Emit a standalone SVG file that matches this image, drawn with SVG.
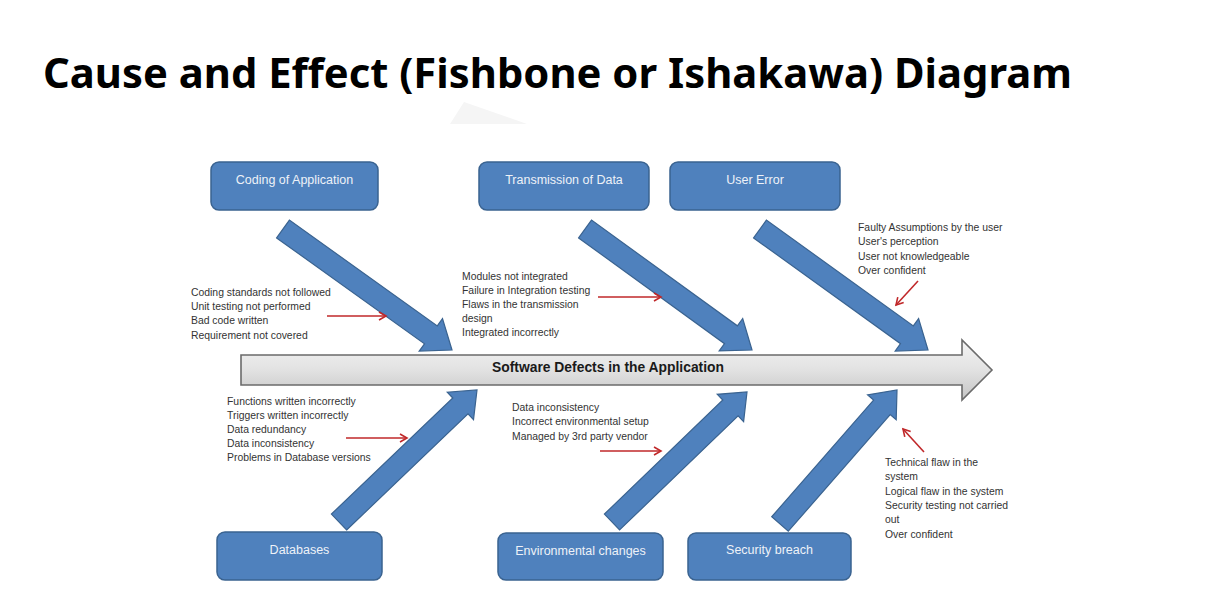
<svg xmlns="http://www.w3.org/2000/svg" width="1213" height="616" viewBox="0 0 1213 616">
<defs>
<linearGradient id="spineGrad" x1="0" y1="0" x2="0" y2="1">
<stop offset="0" stop-color="#f4f4f4"/>
<stop offset="0.5" stop-color="#e2e2e2"/>
<stop offset="1" stop-color="#c4c4c4"/>
</linearGradient>
<marker id="redHead" markerWidth="10" markerHeight="10" refX="8" refY="5" orient="auto" markerUnits="userSpaceOnUse">
<path d="M1,1 L8,5 L1,9" fill="none" stroke="#c0282a" stroke-width="1.6"/>
</marker>
<style>
.title{font-family:"Noto Sans","Open Sans",sans-serif;font-weight:bold;font-size:41.5px;fill:#000}
.box{fill:#4f81bd;stroke:#3a6390;stroke-width:1.5}
.boxtxt{font-family:"Liberation Sans",Arial,sans-serif;font-size:12.5px;fill:#eef2f8;text-anchor:middle}
.fish{fill:#4f81bd;stroke:#3a6390;stroke-width:1.2;stroke-linejoin:miter}
.note{font-family:"Liberation Sans",Arial,sans-serif;font-size:10.4px;fill:#333}
.red{stroke:#c0282a;stroke-width:1.6;fill:none;marker-end:url(#redHead)}
.spine{fill:url(#spineGrad);stroke:#6b6b6b;stroke-width:1.6}
.spinetxt{font-family:"Liberation Sans",Arial,sans-serif;font-weight:bold;font-size:14.5px;fill:#1a1a1a;text-anchor:middle}
</style>
</defs>
<rect width="1213" height="616" fill="#ffffff"/>
<text class="title" x="43" y="88" textLength="1029" lengthAdjust="spacingAndGlyphs">Cause and Effect (Fishbone or Ishakawa) Diagram</text>
<polygon points="450,124 464,102 527,124" fill="#f5f5f5"/>

<g id="spine">
<polygon class="spine" points="241,355 962,355 962,340 992,370 962,400 962,385 241,385"/>
<text class="spinetxt" x="608" y="372" textLength="232" lengthAdjust="spacingAndGlyphs">Software Defects in the Application</text>
</g>

<g id="connectors">
<polygon class="fish" points="276.6,237.9 424.5,343.8 419.2,351.1 452,350 442.5,318.6 437.3,325.9 289.4,220.1"/>
<polygon class="fish" points="578.6,237.9 724.5,343.7 719.2,350.9 752,350 742.7,318.5 737.4,325.8 591.5,220.1"/>
<polygon class="fish" points="753.6,237.9 900.5,343.7 895.2,351.0 928,350 918.6,318.6 913.3,325.9 766.4,220.1"/>
<polygon class="fish" points="346.6,530.0 468.0,413.9 473.5,419.6 477,390 447.3,392.2 452.8,398.0 331.4,514.1"/>
<polygon class="fish" points="619.6,529.9 738.1,415.9 743.6,421.6 747,392 717.3,394.3 722.8,400.0 604.4,514.1"/>
<polygon class="fish" points="788.3,531.2 890.2,414.6 896.2,419.8 897,390 867.6,394.8 873.6,400.1 771.7,516.8"/>
<line class="red" x1="327" y1="316" x2="386" y2="316"/>
<line class="red" x1="598" y1="297" x2="661" y2="297"/>
<line class="red" x1="918" y1="281" x2="896" y2="305"/>
<line class="red" x1="346" y1="438" x2="407" y2="438"/>
<line class="red" x1="600" y1="451" x2="661" y2="451"/>
<line class="red" x1="924" y1="452" x2="903" y2="429"/>
</g>

<g id="node-coding">
<rect class="box" x="211" y="162" width="167" height="48" rx="8"/>
<text class="boxtxt" x="294.5" y="184">Coding of Application</text>
</g>
<g id="node-transmission">
<rect class="box" x="479" y="162" width="170" height="48" rx="8"/>
<text class="boxtxt" x="564" y="184">Transmission of Data</text>
</g>
<g id="node-user">
<rect class="box" x="670" y="162" width="170" height="48" rx="8"/>
<text class="boxtxt" x="755" y="184">User Error</text>
</g>
<g id="node-databases">
<rect class="box" x="217" y="532" width="165" height="48" rx="8"/>
<text class="boxtxt" x="299.5" y="554">Databases</text>
</g>
<g id="node-environmental">
<rect class="box" x="498" y="533" width="165" height="47" rx="8"/>
<text class="boxtxt" x="580.5" y="555">Environmental changes</text>
</g>
<g id="node-security">
<rect class="box" x="688" y="533" width="163" height="47" rx="8"/>
<text class="boxtxt" x="769.5" y="554">Security breach</text>
</g>

<g id="notes-coding">
<text class="note" x="191" y="296">Coding standards not followed</text>
<text class="note" x="191" y="310">Unit testing not performed</text>
<text class="note" x="191" y="324">Bad code written</text>
<text class="note" x="191" y="339">Requirement not covered</text>
</g>
<g id="notes-transmission">
<text class="note" x="462" y="280">Modules not integrated</text>
<text class="note" x="462" y="294">Failure in Integration testing</text>
<text class="note" x="462" y="308">Flaws in the transmission</text>
<text class="note" x="462" y="322">design</text>
<text class="note" x="462" y="336">Integrated incorrectly</text>
</g>
<g id="notes-user">
<text class="note" x="858" y="231">Faulty Assumptions by the user</text>
<text class="note" x="858" y="245">User's perception</text>
<text class="note" x="858" y="260">User not knowledgeable</text>
<text class="note" x="858" y="274">Over confident</text>
</g>
<g id="notes-databases">
<text class="note" x="227" y="405">Functions written incorrectly</text>
<text class="note" x="227" y="419">Triggers written incorrectly</text>
<text class="note" x="227" y="433">Data redundancy</text>
<text class="note" x="227" y="447">Data inconsistency</text>
<text class="note" x="227" y="461">Problems in Database versions</text>
</g>
<g id="notes-environmental">
<text class="note" x="512" y="411">Data inconsistency</text>
<text class="note" x="512" y="425">Incorrect environmental setup</text>
<text class="note" x="512" y="440">Managed by 3rd party vendor</text>
</g>
<g id="notes-security">
<text class="note" x="885" y="466">Technical flaw in the</text>
<text class="note" x="885" y="480">system</text>
<text class="note" x="885" y="495">Logical flaw in the system</text>
<text class="note" x="885" y="509">Security testing not carried</text>
<text class="note" x="885" y="523">out</text>
<text class="note" x="885" y="538">Over confident</text>
</g>
</svg>
